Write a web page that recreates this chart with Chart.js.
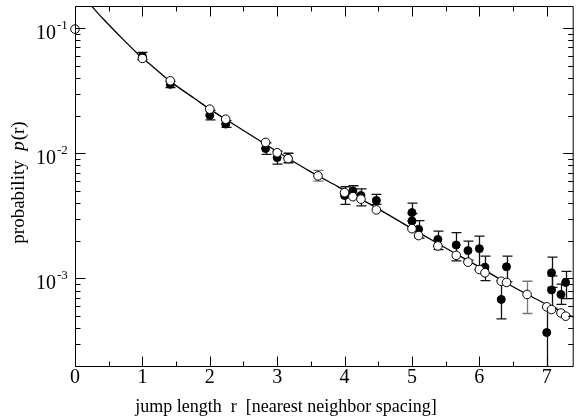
<!DOCTYPE html>
<html>
<head>
<meta charset="utf-8">
<script src="https://cdn.jsdelivr.net/npm/chart.js@4.4.0/dist/chart.umd.min.js"></script>
<style>
  html, body { margin: 0; padding: 0; background: #fff; }
</style>
</head>
<body>
<canvas id="chart" width="579" height="419"></canvas>
<script>
// open circles: measured p(r)
const openR = [0, 1, 1.414, 2, 2.236, 2.828, 3, 3.162, 3.606, 4, 4.123, 4.243, 4.472, 5, 5.099, 5.385, 5.657, 5.831, 6, 6.083, 6.325, 6.403, 6.708, 7, 7.071, 7.211, 7.28];
const openP = [0.098, 0.0572, 0.0379, 0.0225, 0.0187, 0.0122, 0.0101, 0.00906, 0.0066, 0.00485, 0.0045, 0.0043, 0.00353, 0.0025, 0.0022, 0.00182, 0.00153, 0.00135, 0.00118, 0.00111, 0.00095, 0.00093, 0.000745, 0.000594, 0.000565, 0.00053, 0.0005];

// error bars on a few open circles
const openErrR  = [3.606, 6.708];
const openErrLo = [0.0060, 0.000525];
const openErrHi = [0.0073, 0.00095];

// filled circles with error bars
const filledR  = [1, 1.414, 2, 2.236, 2.828, 3, 3.162, 4, 4.123, 4.243, 4.472, 5, 5, 5.099, 5.385, 5.657, 5.831, 6, 6.083, 6.325, 6.403, 7, 7.071, 7.071, 7.211, 7.28];
const filledP  = [0.0595, 0.0355, 0.0201, 0.0171, 0.0109, 0.00923, 0.0091, 0.0046, 0.0050, 0.0046, 0.0042, 0.00336, 0.00288, 0.00247, 0.00205, 0.00185, 0.00167, 0.00173, 0.00123, 0.00068, 0.00124, 0.00037, 0.00111, 0.00081, 0.000745, 0.00093];
const filledLo = [0.056, 0.0335, 0.0185, 0.0161, 0.0098, 0.0082, 0.0084, 0.0039, 0.0044, 0.0038, 0.0039, 0.0029, 0.0025, 0.0021, 0.0017, 0.00138, 0.0014, 0.00118, 0.00096, 0.000476, 0.00094, 0.00015, 0.00085, 0.00058, 0.00062, 0.00069];
const filledHi = [0.064, 0.0375, 0.022, 0.0182, 0.0121, 0.0104, 0.0100, 0.0054, 0.0055, 0.0052, 0.0047, 0.0040, 0.0033, 0.0029, 0.00239, 0.00232, 0.00199, 0.00218, 0.00151, 0.00096, 0.00151, 0.00058, 0.00148, 0.00105, 0.0009, 0.00114];

// fitted curve
const curveR = [0.2, 0.42, 0.66, 0.91, 1.0, 1.414, 1.79, 2.0, 2.5, 3.0, 3.5, 3.9, 4.5, 5.0, 5.5, 6.1, 6.4, 7.0, 7.4];
const curveP = [0.16, 0.118, 0.0868, 0.0639, 0.058, 0.0375, 0.027, 0.0225, 0.0152, 0.0103, 0.0071, 0.00542, 0.0036, 0.0025, 0.00175, 0.00115, 0.00092, 0.00062, 0.00049];

// axis ticks
const xTickLabels = [0, 1, 2, 3, 4, 5, 6, 7];
const yDecades = [-1, -2, -3];

const X_MAX = 7.4, Y_MIN = 2e-4, Y_MAX = 0.15;
const SERIF = '"Liberation Serif", "DejaVu Serif", serif';

function pts(xs, ys) {
    return xs.map((x, i) => ({ x: x, y: ys[i] }));
}

// error bars, drawn under the markers
const errorBars = {
    id: 'errorBars',
    beforeDatasetsDraw(chart) {
        const { ctx, chartArea: a, scales: { x, y } } = chart;
        ctx.save();
        ctx.beginPath();
        ctx.rect(a.left, a.top, a.right - a.left, a.bottom - a.top);
        ctx.clip();
        const bar = (r, lo, hi, color) => {
            const px = Math.round(x.getPixelForValue(r)) + 0.5;
            const y1 = y.getPixelForValue(lo), y2 = y.getPixelForValue(hi);
            ctx.strokeStyle = color;
            ctx.lineWidth = 1.3;
            ctx.beginPath();
            ctx.moveTo(px, y1); ctx.lineTo(px, y2);
            ctx.moveTo(px - 5, y1); ctx.lineTo(px + 5, y1);
            ctx.moveTo(px - 5, y2); ctx.lineTo(px + 5, y2);
            ctx.stroke();
        };
        filledR.forEach((r, i) => bar(r, filledLo[i], filledHi[i], '#111'));
        openErrR.forEach((r, i) => bar(r, openErrLo[i], openErrHi[i], '#777'));
        ctx.restore();
    }
};

// frame, inward ticks and all axis texts
const frame = {
    id: 'frame',
    afterDraw(chart) {
        const { ctx, chartArea: a, scales: { x, y } } = chart;
        const L = a.left + 0.5, R = a.right - 0.5, T = a.top + 0.5, B = a.bottom + 0.5;
        ctx.save();
        ctx.strokeStyle = '#000';
        ctx.lineWidth = 1;
        ctx.beginPath();
        ctx.moveTo(L, T); ctx.lineTo(R, T); ctx.lineTo(R, B); ctx.lineTo(L, B); ctx.closePath();

        // x ticks on bottom and top
        for (let k = 0; k <= X_MAX * 2; k++) {
            const v = k / 2;
            const px = Math.round(x.getPixelForValue(v)) + 0.5;
            const len = k % 2 === 0 ? 10 : 5;
            ctx.moveTo(px, B); ctx.lineTo(px, B - len);
            ctx.moveTo(px, T); ctx.lineTo(px, T + len);
        }
        // y ticks on left and right
        for (let e = -4; e <= -1; e++) {
            for (let m = 1; m <= 9; m++) {
                const v = m * Math.pow(10, e);
                if (v < Y_MIN || v > Y_MAX) continue;
                const py = Math.round(y.getPixelForValue(v)) + 0.5;
                const len = m === 1 ? 10 : 5;
                ctx.moveTo(L, py); ctx.lineTo(L + len, py);
                ctx.moveTo(R, py); ctx.lineTo(R - len, py);
            }
        }
        ctx.stroke();

        ctx.fillStyle = '#000';
        ctx.textBaseline = 'alphabetic';

        // x tick labels
        ctx.font = '20px ' + SERIF;
        ctx.textAlign = 'center';
        xTickLabels.forEach(v => {
            ctx.fillText(String(v), x.getPixelForValue(v), 383);
        });

        // y tick labels 10^e
        yDecades.forEach(e => {
            const py = y.getPixelForValue(Math.pow(10, e));
            ctx.font = '20px ' + SERIF;
            ctx.textAlign = 'right';
            ctx.fillText('10', 56, py + 11);
            ctx.font = '13px ' + SERIF;
            ctx.textAlign = 'left';
            ctx.fillText(String(e), 57, py + 1);
        });

        // x axis title
        ctx.font = '18px ' + SERIF;
        ctx.textAlign = 'center';
        ctx.fillText('jump length  r  [nearest neighbor spacing]', 286, 412);

        // y axis title, with italic p
        ctx.translate(24, 183);
        ctx.rotate(-Math.PI / 2);
        const part1 = 'probability  ', part2 = 'p', part3 = '(r)';
        ctx.font = '19px ' + SERIF;
        const w1 = ctx.measureText(part1).width, w3 = ctx.measureText(part3).width;
        ctx.font = 'italic 19px ' + SERIF;
        const w2 = ctx.measureText(part2).width;
        let sx = -(w1 + w2 + w3) / 2;
        ctx.textAlign = 'left';
        ctx.font = '19px ' + SERIF;
        ctx.fillText(part1, sx, 0);
        ctx.font = 'italic 19px ' + SERIF;
        ctx.fillText(part2, sx + w1, 0);
        ctx.font = '19px ' + SERIF;
        ctx.fillText(part3, sx + w1 + w2 + 1, 0);
        ctx.restore();
    }
};

Chart.defaults.font.family = SERIF;

new Chart(document.getElementById('chart'), {
    type: 'scatter',
    data: {
        datasets: [
            {
                label: 'open',
                data: pts(openR, openP),
                pointStyle: 'circle',
                pointRadius: 4.3,
                pointBackgroundColor: '#fff',
                pointBorderColor: '#000',
                pointBorderWidth: 1,
                clip: { left: 8, right: 0, top: 0, bottom: 0 }
            },
            {
                label: 'filled',
                data: pts(filledR, filledP),
                pointStyle: 'circle',
                pointRadius: 4,
                pointBackgroundColor: '#000',
                pointBorderColor: '#000',
                pointBorderWidth: 1
            },
            {
                label: 'fit',
                data: pts(curveR, curveP),
                showLine: true,
                pointRadius: 0,
                borderColor: '#000',
                borderWidth: 1.3,
                cubicInterpolationMode: 'monotone',
                clip: 0
            }
        ]
    },
    options: {
        responsive: false,
        animation: false,
        events: [],
        layout: { padding: { left: 75, right: 1, top: 6, bottom: 53 } },
        plugins: { legend: { display: false }, tooltip: { enabled: false } },
        scales: {
            x: {
                type: 'linear',
                min: 0,
                max: X_MAX,
                grid: { display: false, drawTicks: false },
                border: { display: false },
                ticks: { display: false }
            },
            y: {
                type: 'logarithmic',
                min: Y_MIN,
                max: Y_MAX,
                grid: { display: false, drawTicks: false },
                border: { display: false },
                ticks: { display: false }
            }
        }
    },
    plugins: [errorBars, frame]
});
</script>
</body>
</html>
